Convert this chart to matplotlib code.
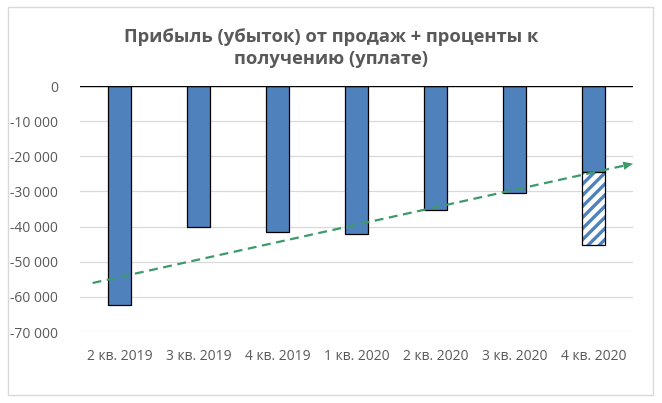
import numpy as np
import matplotlib
matplotlib.use("Agg")
import matplotlib.pyplot as plt
from matplotlib.ticker import FuncFormatter
from matplotlib.patches import Rectangle

# данные
kvartaly = ["2 кв. 2019", "3 кв. 2019", "4 кв. 2019", "1 кв. 2020",
            "2 кв. 2020", "3 кв. 2020", "4 кв. 2020"]
pribyl = [-62300, -40100, -41500, -42200, -35300, -30400, -24500]
prognoz_dop = -20700  # заштрихованная часть последнего столбца
y_ticks = [0, -10000, -20000, -30000, -40000, -50000, -60000, -70000]

BLUE = "#4f81bd"
GREEN = "#3c9a6b"
GREY = "#595959"

plt.rcParams["font.family"] = ["Open Sans", "DejaVu Sans"]
plt.rcParams["hatch.linewidth"] = 2.4

fig = plt.figure(figsize=(6.62, 4.03), dpi=100)
fig.patches.append(Rectangle((8 / 662, 1 - 395 / 403), 645 / 662, 388 / 403,
                             transform=fig.transFigure, fill=False,
                             edgecolor="#d9d9d9", linewidth=1))
ax = fig.add_axes([80 / 662, 1 - 332 / 403, 553 / 662, 246 / 403])

x = np.arange(len(kvartaly))
ax.bar(x, pribyl, width=0.28, color=BLUE, edgecolor="black", linewidth=0.9, zorder=3)

# заштрихованная часть
ax.bar(x[-1], prognoz_dop, bottom=pribyl[-1], width=0.28, color="white",
       edgecolor=BLUE, hatch="///", linewidth=0, zorder=3)
ax.bar(x[-1], prognoz_dop, bottom=pribyl[-1], width=0.28, facecolor="none",
       edgecolor="black", linewidth=0.9, zorder=4)

# линейный тренд
k, b = np.polyfit(x, pribyl, 1)
x0, x1 = -0.34, 6.42
ax.plot([x0, x1], [k * x0 + b, k * x1 + b], color=GREEN, linestyle=(0, (4, 2.5)),
        linewidth=1.6, zorder=5)
ax.annotate("", xy=(6.5, k * 6.5 + b), xytext=(6.3, k * 6.3 + b),
            arrowprops=dict(arrowstyle="-|>,head_length=0.7,head_width=0.3",
                            color=GREEN, lw=0, shrinkA=0, shrinkB=0), zorder=6)

ax.set_xlim(-0.5, 6.5)
ax.set_ylim(-70000, 0)
ax.set_yticks(y_ticks)
ax.yaxis.set_major_formatter(FuncFormatter(lambda v, p: f"{int(v):,}".replace(",", " ")))
ax.set_xticks(x)
ax.set_xticklabels(kvartaly)
ax.grid(axis="y", color="#d9d9d9", linewidth=0.9, zorder=0)
ax.axhline(0, color="black", linewidth=1, zorder=4)
for s in ax.spines.values():
    s.set_visible(False)
ax.tick_params(length=0, labelsize=10, colors=GREY, pad=8)
ax.tick_params(axis="y", pad=16)
ax.tick_params(axis="x", pad=12)

fig.text(0.5, 1 - 48 / 403, "Прибыль (убыток) от продаж + проценты к\nполучению (уплате)",
         ha="center", va="center", fontsize=13.2, fontweight="bold", color=GREY,
         linespacing=1.35)

fig.savefig("out.png", dpi=100)
